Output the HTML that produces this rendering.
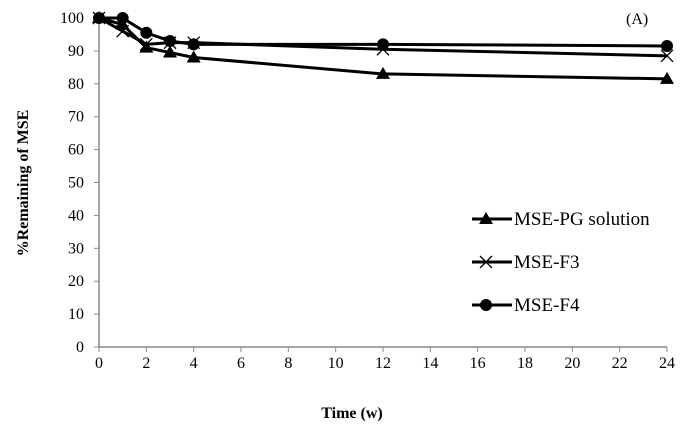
<!DOCTYPE html>
<html><head><meta charset="utf-8"><style>
body{margin:0;background:#fff}
svg{display:block;font-family:"Liberation Serif",serif}
</style></head><body>
<svg id="c" width="691" height="432"></svg>
<script>
const weeks=[0,1,2,3,4,12,24];
const pg=[100,98,91,89.5,88,83,81.5];
const f3=[100,96,92,92.5,92.5,90.5,88.5];
const f4=[100,100,95.5,93,92,92,91.5];
const xTicks=[0,2,4,6,8,10,12,14,16,18,20,22,24];
const yTicks=[0,10,20,30,40,50,60,70,80,90,100];
const NS="http://www.w3.org/2000/svg",svg=document.getElementById('c');
const X=v=>99+v*(568/24), Y=v=>347-v*3.29;
function el(t,a,p){const e=document.createElementNS(NS,t);for(const k in a)e.setAttribute(k,a[k]);(p||svg).appendChild(e);return e;}
let ax=el('line',{x1:99,y1:Y(100),x2:99,y2:347,stroke:'#888','stroke-width':1.5});


ax=el('line',{x1:99,y1:347,x2:667,y2:347,stroke:'#888','stroke-width':1.5});


yTicks.forEach(v=>{el('line',{x1:94,x2:99,y1:Y(v),y2:Y(v),stroke:'#888'});
 const t=el('text',{x:84,y:Y(v)+5,'text-anchor':'end','font-size':16});t.textContent=v;
 
 });
xTicks.forEach(v=>{el('line',{x1:X(v),x2:X(v),y1:347,y2:352,stroke:'#888'});
 const t=el('text',{x:X(v),y:368,'text-anchor':'middle','font-size':16});t.textContent=v;
 
 });
let t=el('text',{x:352,y:418,'text-anchor':'middle','font-size':16,'font-weight':'bold'});t.textContent='Time (w)';


t=el('text',{transform:'translate(28,183) rotate(-90)','text-anchor':'middle','font-size':16,'font-weight':'bold'});t.textContent='%Remaining of MSE';


t=el('text',{x:626,y:24,'font-size':16});t.textContent='(A)';


function marker(kind,x,y,g){
 if(kind==='tri')el('polygon',{points:`${x},${y-7} ${x-7},${y+5} ${x+7},${y+5}`,fill:'#000'},g);
 else if(kind==='x'){el('path',{d:`M${x-6} ${y-6}L${x+6} ${y+6}M${x-6} ${y+6}L${x+6} ${y-6}`,stroke:'#000','stroke-width':1.3},g);}
 else el('circle',{cx:x,cy:y,r:6,fill:'#000'},g);
}
const series=[['mse-pg-solution',pg,'tri'],['mse-f3',f3,'x'],['mse-f4',f4,'dot']];
series.forEach(([n,d,k])=>{
 const g=el('g',{});
 
 
 el('polyline',{points:weeks.map((w,i)=>X(w)+','+Y(d[i])).join(' '),fill:'none',stroke:'#000','stroke-width':3},g);
 weeks.forEach((w,i)=>marker(k,X(w),Y(d[i]),g));
});
const labels=['MSE-PG solution','MSE-F3','MSE-F4'];
series.forEach(([n,d,k],i)=>{
 const g=el('g',{});const y=219+i*43;
 
 
 el('line',{x1:472,x2:512,y1:y,y2:y,stroke:'#000','stroke-width':3},g);
 marker(k,486,y,g);
 const tt=el('text',{x:514,y:y+6,'font-size':19},g);tt.textContent=labels[i];
});
</script>
</body></html>
